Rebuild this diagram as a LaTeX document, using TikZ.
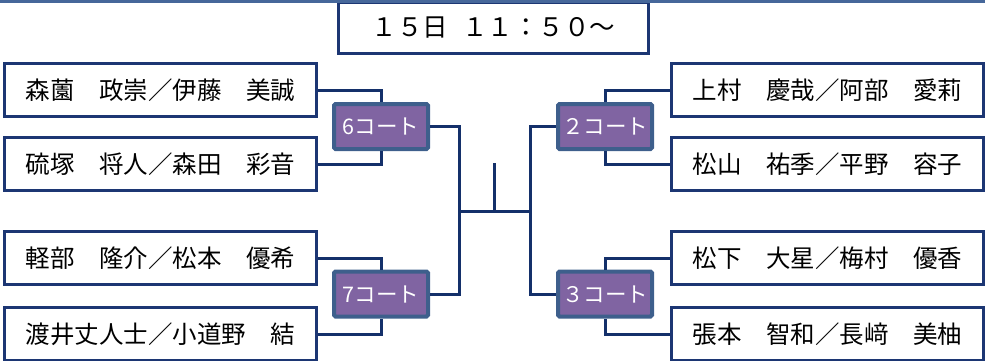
\documentclass[tikz,border=0pt]{standalone}
\usepackage{fontspec}
\setmainfont{Noto Sans CJK JP}
\definecolor{linenavy}{HTML}{14306A}
\definecolor{boxnavy}{HTML}{1C3673}
\definecolor{courtedge}{HTML}{3E5F8C}
\definecolor{courtfill}{HTML}{8064A2}
\definecolor{topbar}{HTML}{46679A}

\begin{document}
\begin{tikzpicture}[x=1pt,y=-1pt,
  namebox/.style={draw=boxnavy,line width=3pt,fill=white,minimum width=312pt,
    minimum height=53pt,inner sep=0pt,font=\fontsize{24.5}{28}\selectfont},
  court/.style={draw=courtedge,line width=4pt,fill=courtfill,rounded corners=1.5pt,
    minimum width=94pt,minimum height=45pt,inner sep=0pt,text=white,
    font=\fontsize{21.5}{24}\selectfont},
  link/.style={draw=linenavy,line width=3pt}]
\useasboundingbox (0,0) rectangle (985,360);

% heading
\node[draw=boxnavy,line width=3pt,fill=white,minimum width=310pt,minimum height=51pt,
  inner sep=0pt,font=\fontsize{25.5}{28}\selectfont] (title) at (493.5,27.5) {１５日\hspace{14pt}１１：５０～};
\draw[topbar,line width=3pt] (0,1.5) -- (985,1.5);

% left pairs
\node[namebox] (l1) at (160.5,90)  {森薗　政崇／伊藤　美誠};
\node[namebox] (l2) at (160.5,164) {硫塚　将人／森田　彩音};
\node[namebox] (l3) at (160.5,258) {軽部　隆介／松本　優希};
\node[namebox] (l4) at (160.5,334) {渡井丈人士／小道野　結};

% right pairs
\node[namebox] (r1) at (827.5,90)  {上村　慶哉／阿部　愛莉};
\node[namebox] (r2) at (827.5,164) {松山　祐季／平野　容子};
\node[namebox] (r3) at (827.5,258) {松下　大星／梅村　優香};
\node[namebox] (r4) at (827.5,334) {張本　智和／長﨑　美柚};

% courts
\node[court] (c6) at (381,126.5) {6コート};
\node[court] (c7) at (381,294)   {7コート};
\node[court] (c2) at (605,126.5) {２コート};
\node[court] (c3) at (605,294)   {３コート};

\coordinate (jl) at (459,211);
\coordinate (jr) at (530,211);
\coordinate (top) at (494,163);

\draw[link] (l1.east) -| (c6.north);
\draw[link] (l2.east) -| (c6.south);
\draw[link] (l3.east) -| (c7.north);
\draw[link] (l4.east) -| (c7.south);
\draw[link] (r1.west) -| (c2.north);
\draw[link] (r2.west) -| (c2.south);
\draw[link] (r3.west) -| (c3.north);
\draw[link] (r4.west) -| (c3.south);

\draw[link] (c6.east) -| (jl) |- (c7.east);
\draw[link] (c2.west) -| (jr) |- (c3.west);
\draw[link] (jl) -- (jr);
\draw[link] (top) -- (top |- jl);
\end{tikzpicture}
\end{document}
